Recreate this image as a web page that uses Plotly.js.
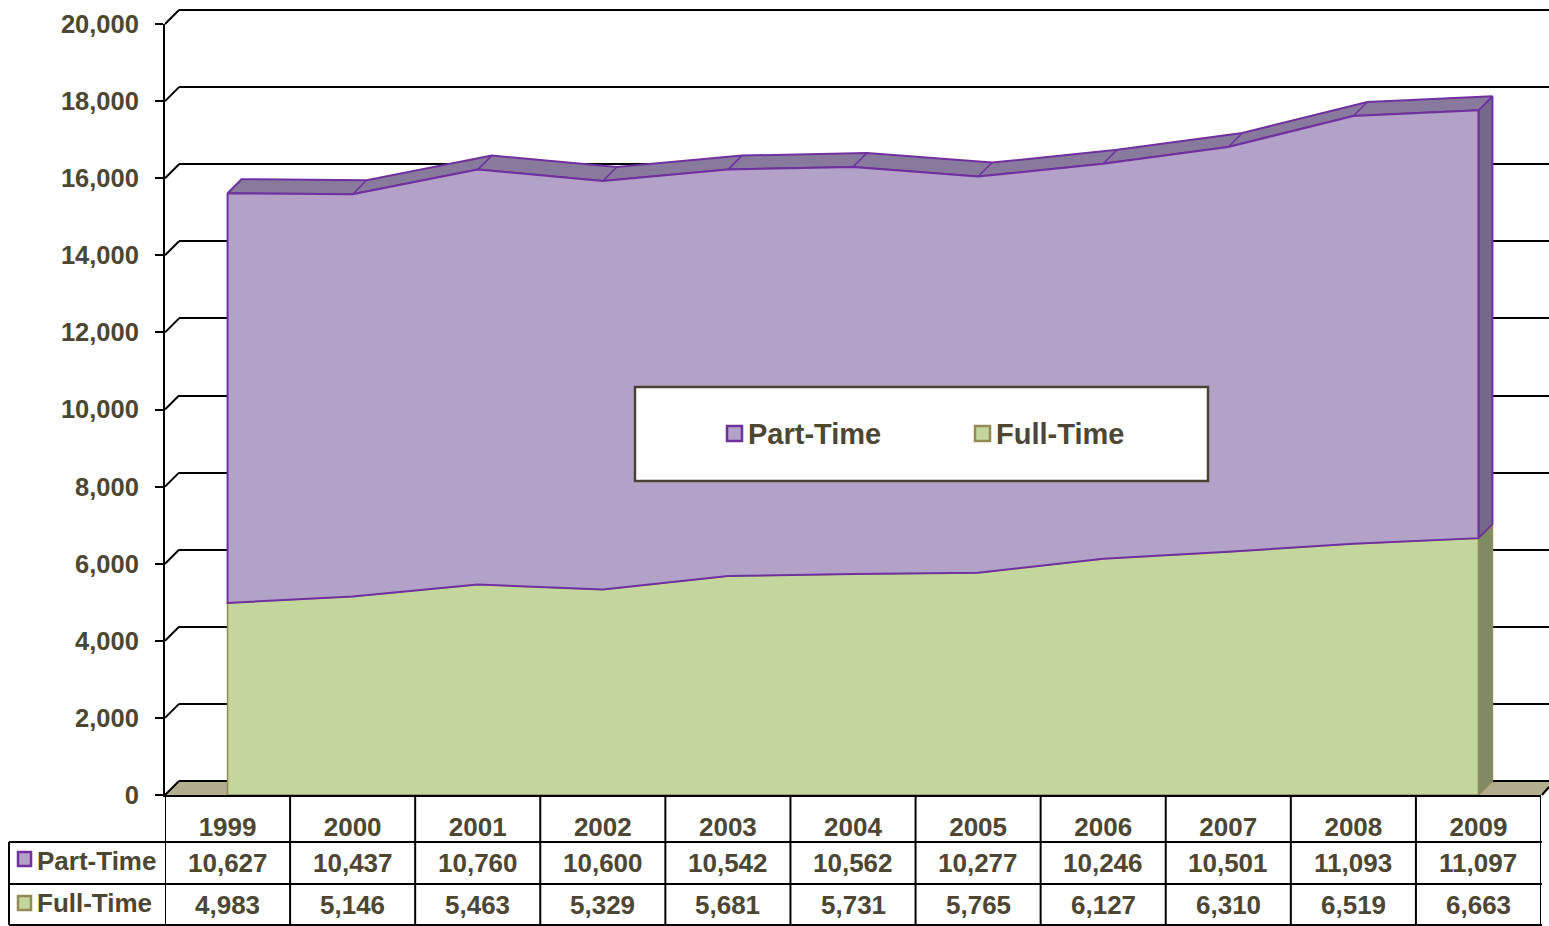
<!DOCTYPE html>
<html>
<head>
<meta charset="utf-8">
<script src="https://cdn.plot.ly/plotly-3.0.1.min.js"></script>
<style>
  html, body { margin: 0; padding: 0; background: #ffffff; }
  #chart { width: 1549px; height: 926px; }
</style>
</head>
<body>
<div id="chart"></div>
<script>
// ---------------- DATA ----------------
const years = ['1999', '2000', '2001', '2002', '2003', '2004', '2005', '2006', '2007', '2008', '2009'];
const partTime = [10627, 10437, 10760, 10600, 10542, 10562, 10277, 10246, 10501, 11093, 11097];
const fullTime = [4983, 5146, 5463, 5329, 5681, 5731, 5765, 6127, 6310, 6519, 6663];
const seriesNames = ['Part-Time', 'Full-Time'];
const yTicks = [0, 2000, 4000, 6000, 8000, 10000, 12000, 14000, 16000, 18000, 20000];

// ---------------- STYLE ----------------
const W = 1549, H = 926;
const px = v => v / W;
const py = v => 1 - v / H;
const TXT = '#4d4632';
const FONT = 'Liberation Sans, Arial, sans-serif';
const PT_FILL = '#b3a2c7', PT_LINE = '#7030a0', PT_TOP = '#877a9c', PT_SIDE = '#75698a';
const FT_FILL = '#c3d69b', FT_LINE = '#948a54', FT_SIDE = '#7f8b62';

// front plot geometry (pixels)
const FX0 = 165, FX1 = 1541, FY0 = 795, FY1 = 24;
const DEPTH = 14;                       // 3D depth offset in px
const catPx = (FX1 - FX0) / years.length;
const yMax = 20000;
const dx = DEPTH / catPx;               // depth in category units
const dy = DEPTH * yMax / (FY0 - FY1);  // depth in value units
const pad = 4;                          // px of extra back-wall room so edge gridlines render
const padV = pad * yMax / (FY0 - FY1);

const n = years.length;
const idx = years.map((_, i) => i);
const totals = idx.map(i => fullTime[i] + partTime[i]);
const last = n - 1;

const common = { xaxis: 'x2', yaxis: 'y2', hoverinfo: 'skip', showlegend: false, mode: 'lines' };

const traces = [];
// placeholder trace for the back-wall subplot
traces.push({ x: [null], y: [null], xaxis: 'x', yaxis: 'y', mode: 'lines', showlegend: false, hoverinfo: 'skip' });

// Full-Time side face
traces.push(Object.assign({}, common, {
  x: [last, last + dx, last + dx, last, last],
  y: [fullTime[last], fullTime[last] + dy, dy, 0, fullTime[last]],
  fill: 'toself', fillcolor: FT_SIDE, line: { color: FT_LINE, width: 1.5 }
}));
// Part-Time side face
traces.push(Object.assign({}, common, {
  x: [last, last + dx, last + dx, last, last],
  y: [totals[last], totals[last] + dy, fullTime[last] + dy, fullTime[last], totals[last]],
  fill: 'toself', fillcolor: PT_SIDE, line: { color: PT_LINE, width: 2 }
}));
// Part-Time top face
traces.push(Object.assign({}, common, {
  x: idx.concat(idx.slice().reverse().map(i => i + dx)).concat([0]),
  y: totals.concat(totals.slice().reverse().map(v => v + dy)).concat([totals[0]]),
  fill: 'toself', fillcolor: PT_TOP, line: { color: PT_LINE, width: 2 }
}));
// Full-Time front face
traces.push(Object.assign({}, common, {
  x: [0].concat(idx).concat([last, 0]),
  y: [0].concat(fullTime).concat([0, 0]),
  fill: 'toself', fillcolor: FT_FILL, line: { color: FT_LINE, width: 1.5 }
}));
// Part-Time front face
traces.push(Object.assign({}, common, {
  x: idx.concat(idx.slice().reverse()).concat([0]),
  y: totals.concat(fullTime.slice().reverse()).concat([totals[0]]),
  fill: 'toself', fillcolor: PT_FILL, line: { color: PT_LINE, width: 2 }
}));
// depth edges at interior vertices
const ex = [], ey = [];
for (let i = 1; i < last; i++) { ex.push(i, i + dx, null); ey.push(totals[i], totals[i] + dy, null); }
traces.push(Object.assign({}, common, { x: ex, y: ey, line: { color: PT_LINE, width: 1.5 } }));

// ---------------- SHAPES ----------------
const shapes = [];
const BLK = '#000000';
// floor
shapes.push({
  type: 'path', xref: 'paper', yref: 'paper', layer: 'below',
  path: `M ${px(FX0)},${py(FY0)} L ${px(FX0 + DEPTH)},${py(FY0 - DEPTH)} L ${px(W + 10)},${py(FY0 - DEPTH)} L ${px(FX1 + 1)},${py(FY0)} Z`,
  fillcolor: '#b1ad8d', line: { width: 0 }
});
// left side-wall diagonals at each tick
yTicks.forEach(v => {
  const yp = FY0 - v * (FY0 - FY1) / yMax;
  shapes.push({ type: 'line', xref: 'paper', yref: 'paper', layer: 'below',
    x0: px(FX0), y0: py(yp), x1: px(FX0 + DEPTH), y1: py(yp - DEPTH), line: { color: BLK, width: 2 } });
});
// floor right diagonal
shapes.push({ type: 'line', xref: 'paper', yref: 'paper', x0: px(FX1 + 1), y0: py(FY0), x1: px(W), y1: py(FY0 - 8), line: { color: BLK, width: 2 } });

// data table lines
const TL = 9, TR = 1542, R1 = 842, R2 = 884, R3 = 925;
[R1, R2, R3].forEach(r => shapes.push({ type: 'line', xref: 'paper', yref: 'paper', x0: px(TL), x1: px(TR), y0: py(r), y1: py(r), line: { color: BLK, width: 2 } }));
shapes.push({ type: 'line', xref: 'paper', yref: 'paper', x0: px(TL), x1: px(TL), y0: py(R1), y1: py(R3), line: { color: BLK, width: 2 } });
for (let i = 0; i <= n; i++) {
  shapes.push({ type: 'line', xref: 'x2', yref: 'paper', x0: i - 0.5, x1: i - 0.5, y0: py(FY0), y1: py(R3), line: { color: BLK, width: 2 } });
}
// table row-label keys
shapes.push({ type: 'rect', xref: 'paper', yref: 'paper', x0: px(18), x1: px(31), y0: py(852), y1: py(866), fillcolor: PT_FILL, line: { color: PT_LINE, width: 2.5 } });
shapes.push({ type: 'rect', xref: 'paper', yref: 'paper', x0: px(18), x1: px(31), y0: py(896), y1: py(910), fillcolor: FT_FILL, line: { color: FT_LINE, width: 2.5 } });

// legend box + keys
shapes.push({ type: 'rect', xref: 'paper', yref: 'paper', x0: px(635), x1: px(1208), y0: py(387), y1: py(481), fillcolor: '#ffffff', line: { color: '#4a4433', width: 2.5 } });
shapes.push({ type: 'rect', xref: 'paper', yref: 'paper', x0: px(727), x1: px(742), y0: py(426), y1: py(441), fillcolor: PT_FILL, line: { color: PT_LINE, width: 2.5 } });
shapes.push({ type: 'rect', xref: 'paper', yref: 'paper', x0: px(975), x1: px(990), y0: py(426), y1: py(441), fillcolor: FT_FILL, line: { color: FT_LINE, width: 2.5 } });

// ---------------- ANNOTATIONS ----------------
const annotations = [];
const fnt = s => ({ family: FONT, size: s, color: TXT, weight: 'bold' });
const fmt = v => v.toLocaleString('en-US');
idx.forEach(i => {
  annotations.push({ xref: 'x2', yref: 'paper', x: i, y: py(863), text: '<b>' + fmt(partTime[i]) + '</b>', showarrow: false, xanchor: 'center', yanchor: 'middle', font: fnt(26) });
  annotations.push({ xref: 'x2', yref: 'paper', x: i, y: py(905), text: '<b>' + fmt(fullTime[i]) + '</b>', showarrow: false, xanchor: 'center', yanchor: 'middle', font: fnt(26) });
});
annotations.push({ xref: 'paper', yref: 'paper', x: px(35), y: py(861), text: '<b>' + seriesNames[0] + '</b>', showarrow: false, xanchor: 'left', yanchor: 'middle', font: fnt(26) });
annotations.push({ xref: 'paper', yref: 'paper', x: px(35), y: py(903), text: '<b>' + seriesNames[1] + '</b>', showarrow: false, xanchor: 'left', yanchor: 'middle', font: fnt(26) });
annotations.push({ xref: 'paper', yref: 'paper', x: px(746), y: py(434), text: '<b>' + seriesNames[0] + '</b>', showarrow: false, xanchor: 'left', yanchor: 'middle', font: fnt(29) });
annotations.push({ xref: 'paper', yref: 'paper', x: px(994), y: py(434), text: '<b>' + seriesNames[1] + '</b>', showarrow: false, xanchor: 'left', yanchor: 'middle', font: fnt(29) });

// ---------------- LAYOUT ----------------
const layout = {
  width: W, height: H,
  margin: { l: 0, r: 0, t: 0, b: 0, pad: 0 },
  paper_bgcolor: '#ffffff', plot_bgcolor: 'rgba(0,0,0,0)',
  showlegend: false,
  font: { family: FONT, color: TXT },
  // back wall
  xaxis: { domain: [px(FX0 + DEPTH), 1], range: [-0.5, -0.5 + (W - FX0 - DEPTH) / catPx], anchor: 'y',
           showgrid: false, zeroline: false, showline: false, showticklabels: false, ticks: '' },
  yaxis: { domain: [py(FY0 - DEPTH + pad), py(FY1 - DEPTH - pad)], range: [-padV, yMax + padV], anchor: 'x',
           tickvals: yTicks, showgrid: true, gridcolor: BLK, gridwidth: 2,
           zeroline: true, zerolinecolor: BLK, zerolinewidth: 2,
           showline: false, showticklabels: false, ticks: '' },
  // front plane
  xaxis2: { domain: [px(FX0), px(FX1)], range: [-0.5, n - 0.5], anchor: 'y2',
            tickvals: idx, ticktext: years, ticks: '', showgrid: false, zeroline: false,
            showline: true, linecolor: BLK, linewidth: 2,
            tickfont: fnt(26), ticklabelstandoff: 8 },
  yaxis2: { domain: [py(FY0), py(FY1)], range: [0, yMax], anchor: 'x2',
            tickvals: yTicks, tickformat: ',d', ticks: 'outside', ticklen: 8, tickwidth: 2, tickcolor: BLK,
            showgrid: false, zeroline: false, showline: true, linecolor: BLK, linewidth: 2,
            tickfont: fnt(25.5), ticklabelstandoff: 11 },
  shapes: shapes,
  annotations: annotations
};

Plotly.newPlot('chart', traces, layout, { displayModeBar: false, staticPlot: true });
</script>
</body>
</html>
